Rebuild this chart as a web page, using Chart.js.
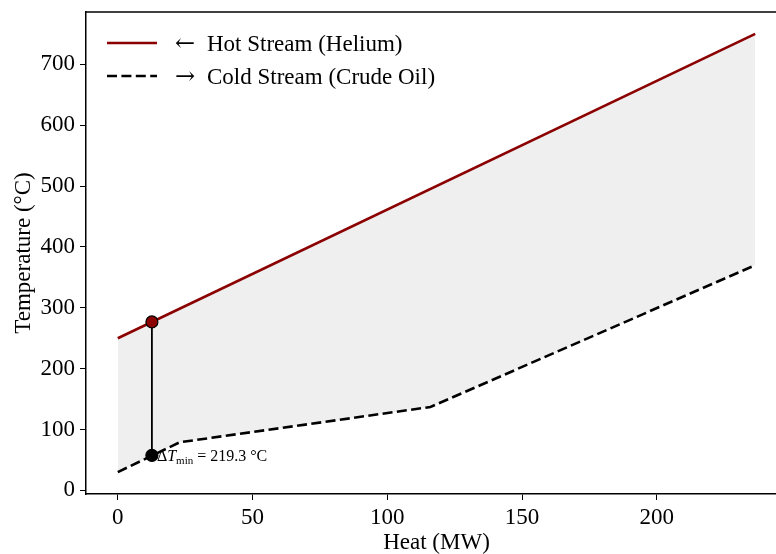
<!DOCTYPE html>
<html>
<head>
<meta charset="utf-8">
<script src="https://cdn.jsdelivr.net/npm/chart.js@4"></script>
<style>
  html, body { margin: 0; padding: 0; background: #fff; overflow: hidden; }
  #wrap { width: 800px; height: 554px; }
</style>
</head>
<body>
<div id="wrap"><canvas id="c"></canvas></div>
<script>
(function () {
    'use strict';

    // composite curve data
    const hotHeat = [0, 236.5];
    const hotTemp = [250, 750];
    const coldHeat = [0, 23, 116, 236.5];
    const coldTemp = [30, 79, 137, 370];

    // pinch (minimum approach) marker
    const pinchHeat = [12.65, 12.65];
    const pinchTemp = [276.7, 57.4];
    const dTmin = 219.3;

    const xTicks = [0, 50, 100, 150, 200];
    const yTicks = [0, 100, 200, 300, 400, 500, 600, 700];

    const legendArrows = ['\u2190', '\u2192'];
    const legendLabels = ['Hot Stream (Helium)', 'Cold Stream (Crude Oil)'];

    const HOT = '#8b0000';
    const FONT = '"Liberation Serif", "DejaVu Serif", serif';
    const SIZE = 23;
    const DASH = [10, 4.4];

    const toPoints = (xs, ys) => xs.map((x, i) => ({ x, y: ys[i] }));

    const frame = {
        id: 'frame',
        afterDraw(chart) {
            const { ctx, chartArea: a } = chart;
            ctx.save();
            ctx.strokeStyle = '#000';
            ctx.lineWidth = 1.5;
            ctx.beginPath();
            ctx.moveTo(a.left, a.top);
            ctx.lineTo(a.right + 2, a.top);
            ctx.stroke();

            // legend
            const styles = [
                { color: HOT, dash: [] },
                { color: '#000', dash: DASH }
            ];
            ctx.textBaseline = 'alphabetic';
            ctx.fillStyle = '#000';
            legendLabels.forEach((label, i) => {
                const y = a.top + 31 + i * 33;
                ctx.beginPath();
                ctx.setLineDash(styles[i].dash);
                ctx.strokeStyle = styles[i].color;
                ctx.lineWidth = 2.6;
                ctx.moveTo(a.left + 21, y);
                ctx.lineTo(a.left + 71, y);
                ctx.stroke();
                ctx.setLineDash([]);
                ctx.font = '24px "DejaVu Serif", serif';
                ctx.fillText(legendArrows[i], a.left + 89, y + 8);
                ctx.font = SIZE + 'px ' + FONT;
                ctx.fillText(label, a.left + 121, y + 8);
            });

            // ΔTmin annotation
            const xs = chart.scales.x, ys = chart.scales.y;
            let px = xs.getPixelForValue(pinchHeat[1]) + 5;
            const py = ys.getPixelForValue(pinchTemp[1]) + 6;
            ctx.font = '16px ' + FONT;
            ctx.fillText('\u0394', px, py);
            px += ctx.measureText('\u0394').width;
            ctx.font = 'italic 16px ' + FONT;
            ctx.fillText('T', px, py);
            px += ctx.measureText('T').width;
            ctx.font = '11px ' + FONT;
            ctx.fillText('min', px, py + 3);
            px += ctx.measureText('min').width;
            ctx.font = '16px ' + FONT;
            ctx.fillText(' = ' + dTmin.toFixed(1) + ' \u00B0C', px, py);
            ctx.restore();
        }
    };

    new Chart(document.getElementById('c'), {
        type: 'scatter',
        data: {
            datasets: [
                {
                    label: legendLabels[0],
                    data: toPoints(hotHeat, hotTemp),
                    showLine: true,
                    borderColor: HOT,
                    borderWidth: 2.6,
                    pointRadius: 0,
                    fill: { target: 1 },
                    backgroundColor: '#efefef',
                    order: 2
                },
                {
                    label: legendLabels[1],
                    data: toPoints(coldHeat, coldTemp),
                    showLine: true,
                    borderColor: '#000',
                    borderWidth: 2.6,
                    borderDash: DASH,
                    pointRadius: 0,
                    fill: false,
                    order: 1
                },
                {
                    label: 'pinch',
                    data: toPoints(pinchHeat, pinchTemp),
                    showLine: true,
                    borderColor: '#000',
                    borderWidth: 1.8,
                    pointRadius: 6,
                    pointBorderWidth: 1.2,
                    pointBorderColor: '#000',
                    pointBackgroundColor: [HOT, '#000'],
                    fill: false,
                    order: 0
                }
            ]
        },
        options: {
            responsive: true,
            maintainAspectRatio: false,
            animation: false,
            layout: { padding: { top: 12, right: 13, left: 0, bottom: 0 } },
            plugins: {
                legend: { display: false },
                tooltip: { enabled: false }
            },
            scales: {
                x: {
                    type: 'linear',
                    min: -11.8,
                    max: 248.3,
                    afterBuildTicks: s => { s.ticks = xTicks.map(v => ({ value: v })); },
                    afterFit: s => { s.height = 60; s.paddingLeft = 0; s.paddingRight = 0; },
                    ticks: { color: '#000', font: { family: FONT, size: SIZE, lineHeight: 1.1 }, padding: 5, maxRotation: 0 },
                    grid: { drawOnChartArea: false, tickLength: 6, color: '#000', tickWidth: 1 },
                    border: { display: true, color: '#000', width: 1.5 },
                    title: { display: true, text: 'Heat (MW)', color: '#000', font: { family: FONT, size: SIZE, lineHeight: 1 }, padding: { top: 0, bottom: 0 } }
                },
                y: {
                    type: 'linear',
                    min: -6,
                    max: 786,
                    afterBuildTicks: s => { s.ticks = yTicks.map(v => ({ value: v })); },
                    afterFit: s => { s.width = 86; s.paddingTop = 0; s.paddingBottom = 0; },
                    ticks: { color: '#000', font: { family: FONT, size: SIZE }, padding: 5 },
                    grid: { drawOnChartArea: false, tickLength: 6, color: '#000', tickWidth: 1 },
                    border: { display: true, color: '#000', width: 1.5 },
                    title: { display: true, text: 'Temperature (\u00B0C)', color: '#000', font: { family: FONT, size: SIZE, lineHeight: 1 }, padding: { top: 12, bottom: 0 } }
                }
            }
        },
        plugins: [frame]
    });
})();
</script>
</body>
</html>
